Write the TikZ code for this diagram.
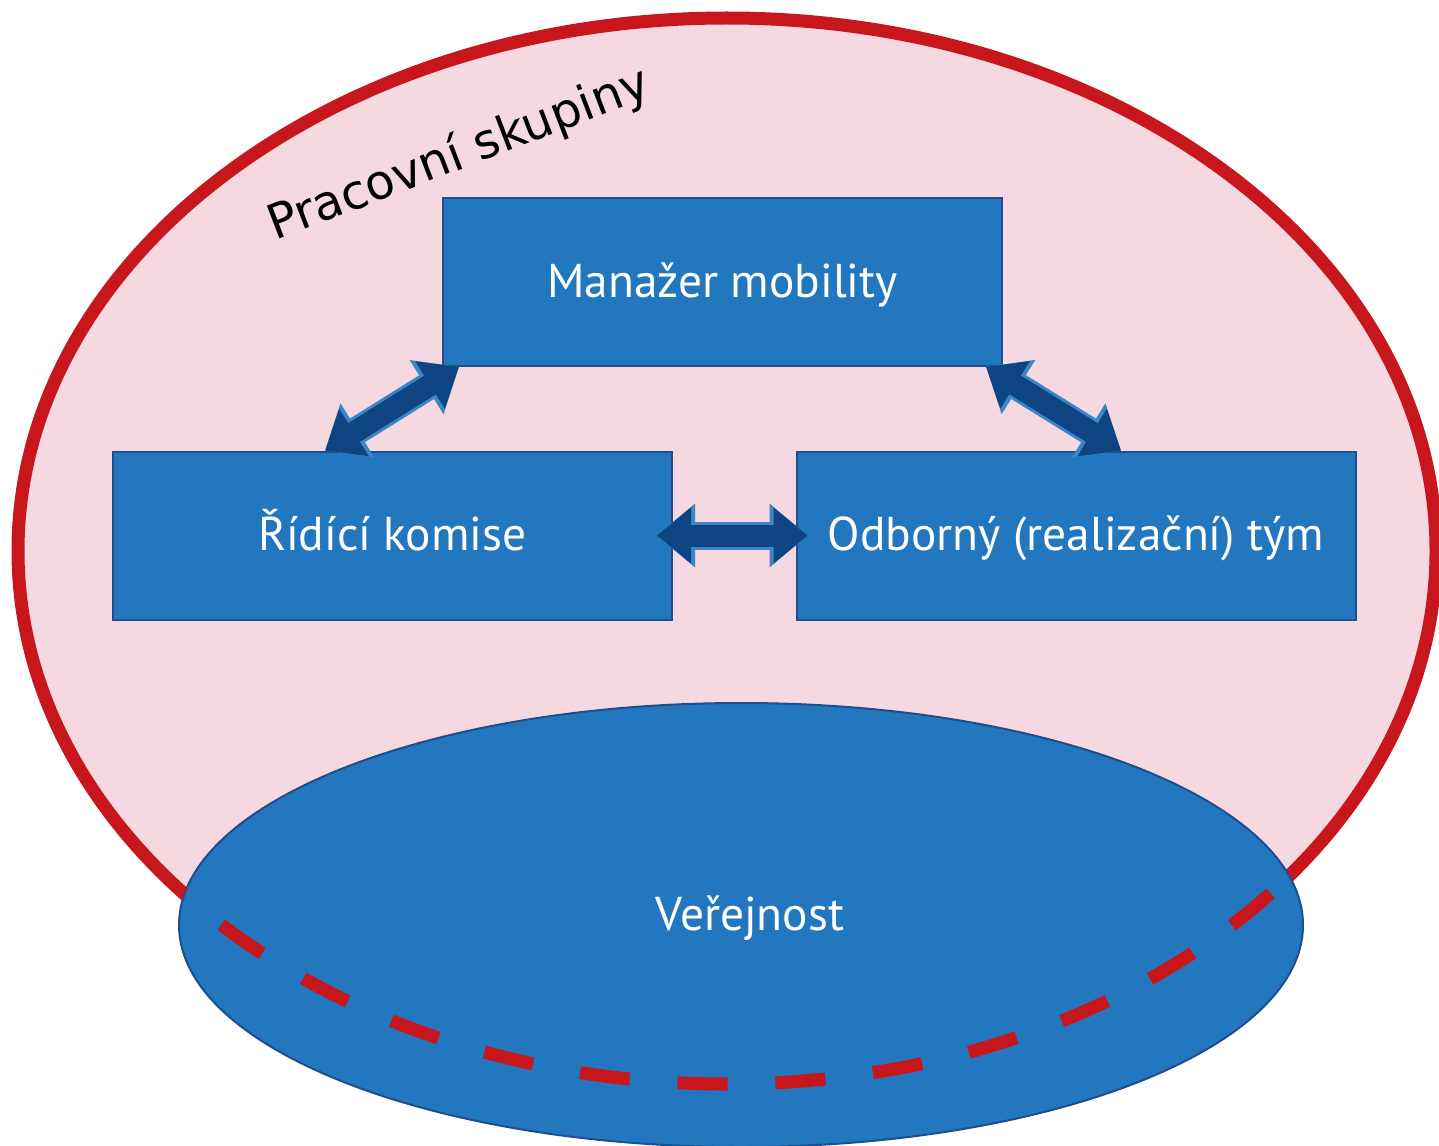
\documentclass[tikz,border=0pt]{standalone}
\usepackage{fontspec}
\setmainfont{PT Sans}
\newfontfamily\labelfont{DejaVu Sans}
\usetikzlibrary{arrows.meta,positioning,shapes.geometric,calc}
\definecolor{pinkbg}{HTML}{F5D8E0}
\definecolor{redline}{HTML}{C8161D}
\definecolor{boxblue}{HTML}{2277BE}
\definecolor{boxedge}{HTML}{1F4E8C}
\definecolor{arrowdark}{HTML}{0E4481}
\definecolor{arrowglow}{HTML}{3A86C8}
\tikzset{
  group/.style={ellipse, draw=redline, line width=6.5pt, fill=pinkbg, minimum width=709pt, minimum height=533pt},
  grouplabel/.style={font=\labelfont\fontsize{24}{28}\selectfont, text=black},
  boxtext/.style={text=white, font=\fontsize{23.7}{28}\selectfont, text height=19pt, text depth=4pt},
  role/.style={boxtext, draw=boxedge, line width=1pt, fill=boxblue, minimum width=279.5pt, minimum height=84pt},
  public/.style={ellipse, draw=boxedge, line width=1pt, fill=boxblue, minimum width=562pt, minimum height=222pt},
  link/.style={draw=arrowdark, line width=11pt, {Triangle[length=17pt,width=28pt,line width=0pt]}-{Triangle[length=17pt,width=28pt,line width=0pt]}},
  linkglow/.style={draw=arrowglow, line width=14pt, {Triangle[length=19pt,width=32pt,line width=0pt]}-{Triangle[length=19pt,width=32pt,line width=0pt]}},
}

\begin{document}
\begin{tikzpicture}[x=0.5pt,y=-0.5pt]
  \useasboundingbox (0,0) rectangle (1439,1145);
  % Groups
  \node[group] (ps) at (727,551) {};
  \node[grouplabel, rotate=21] (pslabel) at (459,155) {Pracovní skupiny};
  \node[public] (ver) at (741,925) {};
  \node[boxtext] (verlabel) at (750,915) {Veřejnost};
  % Dashed part of the group border
  \begin{scope}
    \clip (ver.center) ellipse [x radius=562, y radius=222];
    \draw[redline, line width=6.5pt, dash pattern=on 25pt off 24pt] (ps.center) ellipse [x radius=709, y radius=533];
  \end{scope}
  % Roles
  \node[role] (mm) at (722.5,282) {Manažer mobility};
  \node[role] (rk) at (392.5,535.5) {Řídící komise};
  \node[role] (od) at (1076,535.5) {Odborný (realizační) tým};
  % Links
  \coordinate (rktop) at ($(rk.north west)!0.38!(rk.north east)$);
  \coordinate (mmleft) at ($(mm.south west)!0.03!(mm.south east)$);
  \coordinate (mmright) at ($(mm.south west)!0.97!(mm.south east)$);
  \coordinate (odtop) at ($(od.north west)!0.58!(od.north east)$);
  \coordinate (rkright) at ([xshift=-8pt]rk.east);
  \coordinate (odleft) at ([xshift=6pt]od.west);
  \foreach \a/\b in {rktop/mmleft, mmright/odtop, rkright/odleft} {
    \draw[linkglow] (\a) -- (\b);
    \draw[link] (\a) -- (\b);
  }
\end{tikzpicture}
\end{document}
